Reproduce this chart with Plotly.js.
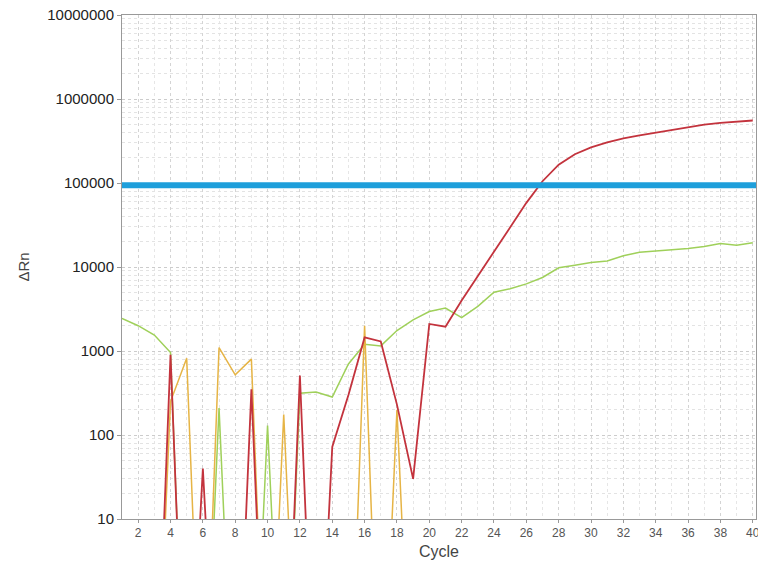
<!DOCTYPE html>
<html>
<head>
<meta charset="utf-8">
<script src="https://cdn.plot.ly/plotly-3.0.1.min.js"></script>
<style>html,body{margin:0;padding:0;background:#fff;}#chart{width:758px;height:570px;}</style>
</head>
<body>
<div id="chart"></div>
<script>
// Cycle numbers
const cycles = [1,2,3,4,5,6,7,8,9,10,11,12,13,14,15,16,17,18,19,20,21,22,23,24,25,26,27,28,29,30,31,32,33,34,35,36,37,38,39,40];
// Values below the 10 floor are off-scale (read as "below axis")
const redRn = [0.01,0.01,0.01,900,0.01,40,0.01,0.01,350,0.01,0.01,510,0.01,72,300,1450,1300,230,30,2100,1950,4000,7800,15000,30000,58000,105000,165000,220000,265000,305000,340000,370000,400000,430000,465000,495000,520000,540000,555000];
const greenRn = [2450,2000,1550,960,0.01,0.01,210,0.01,0.01,130,0.01,315,325,283,700,1200,1150,1750,2350,2950,3250,2500,3400,5000,5500,6300,7500,9800,10500,11300,11800,13600,15000,15500,16000,16600,17500,19000,18200,19500];
const yellowRn = [0.01,0.01,0.01,250,820,0.01,1100,520,800,0.01,175,0.01,0.01,0.01,0.01,2000,0.01,200,0.01,0.01,0.01,0.01,0.01,0.01,0.01,0.01,0.01,0.01,0.01,0.01,0.01,0.01,0.01,0.01,0.01,0.01,0.01,0.01,0.01,0.01];
const threshold = 94000;
const xRange = [1, 40.2];
const yTicks = [10,100,1000,10000,100000,1000000,10000000];
const yTickText = ["10","100","1000","10000","100000","1000000","10000000"];
const xTicks = [2,4,6,8,10,12,14,16,18,20,22,24,26,28,30,32,34,36,38,40];

const traces = [
  {x: cycles, y: greenRn, type:'scatter', mode:'lines', line:{color:'#9fd05a', width:1.5}, hoverinfo:'skip'},
  {x: cycles, y: yellowRn, type:'scatter', mode:'lines', line:{color:'#e6b445', width:1.5}, hoverinfo:'skip'},
  {x: cycles, y: redRn, type:'scatter', mode:'lines', line:{color:'#c3333d', width:1.8}, hoverinfo:'skip'},
  {x: xRange, y: [threshold, threshold], type:'scatter', mode:'lines', line:{color:'#1e9fdb', width:6}, hoverinfo:'skip'}
];

const layout = {
  width:758, height:570,
  margin:{l:122, r:2, t:15, b:51},
  paper_bgcolor:'#fff', plot_bgcolor:'#fff',
  showlegend:false,
  font:{family:'Liberation Sans, Arial, sans-serif', color:'#333'},
  xaxis:{
    range: xRange, tickvals: xTicks, ticktext: xTicks.map(String),
    ticks:'outside', ticklen:3, tickcolor:'#999',
    tickfont:{size:12, color:'#555'},
    ticklabeloverflow:'allow',
    showline:true, linecolor:'#999', linewidth:1, mirror:true,
    showgrid:true, gridcolor:'#d4d4d4', griddash:'dot', gridwidth:1,
    minor:{dtick:1, tick0:1, showgrid:true, gridcolor:'#e6e6e6', griddash:'dot'},
    zeroline:false,
    title:{text:'Cycle', font:{size:16, color:'#444'}, standoff:6}
  },
  yaxis:{
    type:'log', range:[1,7],
    tickvals: yTicks, ticktext: yTickText,
    ticks:'outside', ticklen:4, tickcolor:'#999',
    tickfont:{size:15, color:'#222'},
    showline:true, linecolor:'#999', linewidth:1, mirror:true,
    showgrid:true, gridcolor:'#cccccc', griddash:'dot', gridwidth:1,
    minor:{dtick:'D1', showgrid:true, gridcolor:'#e3e3e3', griddash:'dot'},
    zeroline:false,
    title:{text:'ΔRn', font:{size:15, color:'#444'}, standoff:14}
  }
};

Plotly.newPlot('chart', traces, layout, {displayModeBar:false, staticPlot:true});
</script>
</body>
</html>
